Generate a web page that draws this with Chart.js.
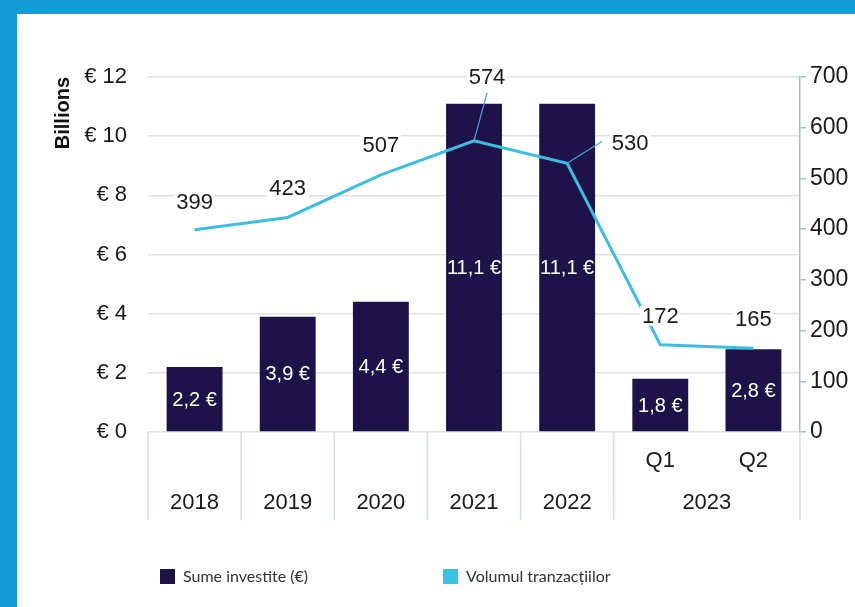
<!DOCTYPE html>
<html><head><meta charset="utf-8">
<script src="https://cdn.jsdelivr.net/npm/chart.js@4.4.1/dist/chart.umd.min.js"></script>
<style>
html,body{margin:0;padding:0;width:855px;height:607px;overflow:hidden;background:#fff;position:relative}
#topband{position:absolute;left:0;top:0;width:855px;height:14px;background:#169bd7}
#leftband{position:absolute;left:0;top:0;width:17px;height:607px;background:#169bd7}
#wrap{position:absolute;left:17px;top:14px;width:870px;height:593px}
</style></head><body>
<div id="wrap"><canvas id="c" width="870" height="593"></canvas></div>
<div id="topband"></div><div id="leftband"></div>
<script>
const categories = ['2018','2019','2020','2021','2022','2023 Q1','2023 Q2'];
const yearLabels = ['2018','2019','2020','2021','2022','2023','2023'];
const quarterLabels = ['','','','','','Q1','Q2'];
const investedBillions = [2.2,3.9,4.4,11.1,11.1,1.8,2.8];
const transactionVolume = [399,423,507,574,530,172,165];
const seriesNames = ['Sume investite (€)','Volumul tranzacțiilor'];
const axisTitle = 'Billions';

const BAR_COLOR = '#1e1349';
const LINE_COLOR = '#3dbde0';
const FONT = '"Liberation Sans", Arial, sans-serif';

// label placement offsets (px) relative to each line point
const lineLabelOffsets = [[0,-28],[0,-30],[0,-30],[13,-64],[63,-20],[0,-29],[0,-29]];
const leaderEnds = {3:[13,-48], 4:[35,-22]};

function fmtEuro(v){ return v.toFixed(1).replace('.', ',') + ' €'; }

const overlay = {
  id: 'overlay',
  afterDatasetsDraw(chart){
    const ctx = chart.ctx;
    ctx.save();
    const bm = chart.getDatasetMeta(0);
    ctx.font = '20px ' + FONT;
    ctx.fillStyle = '#ffffff';
    ctx.textAlign = 'center';
    ctx.textBaseline = 'middle';
    bm.data.forEach((b, i) => {
      ctx.fillText(fmtEuro(investedBillions[i]), b.x, (b.y + b.base) / 2 + 1);
    });
    const lm = chart.getDatasetMeta(1);
    ctx.font = '22px ' + FONT;
    lm.data.forEach((p, i) => {
      const off = lineLabelOffsets[i];
      const lx = p.x + off[0], ly = p.y + off[1];
      if (leaderEnds[i]) {
        ctx.strokeStyle = '#4aa6d2';
        ctx.lineWidth = 1.2;
        ctx.beginPath();
        ctx.moveTo(p.x, p.y);
        ctx.lineTo(p.x + leaderEnds[i][0], p.y + leaderEnds[i][1]);
        ctx.stroke();
      }
      const txt = String(transactionVolume[i]);
      const w = ctx.measureText(txt).width;
      ctx.fillStyle = '#ffffff';
      ctx.fillRect(lx - w/2 - 2, ly - 10, w + 4, 20);
      ctx.fillStyle = '#1a1a1a';
      ctx.fillText(txt, lx, ly + 1);
    });
    ctx.restore();
  },
  afterDraw(chart){
    const ctx = chart.ctx;
    const x = chart.scales.x;
    const ca = chart.chartArea;
    const n = categories.length;
    const half = (x.right - x.left) / n / 2;
    ctx.save();
    ctx.strokeStyle = '#d3dfe8';
    ctx.lineWidth = 1.5;
    const seps = [x.left];
    for (let i = 0; i < n - 1; i++) {
      if (yearLabels[i] !== yearLabels[i+1]) seps.push(x.getPixelForValue(i) + half);
    }
    seps.push(x.right);
    seps.forEach(sx => {
      ctx.beginPath();
      ctx.moveTo(sx, ca.bottom);
      ctx.lineTo(sx, ca.bottom + 88);
      ctx.stroke();
    });
    ctx.font = '22px ' + FONT;
    ctx.fillStyle = '#1a1a1a';
    ctx.textAlign = 'center';
    ctx.textBaseline = 'middle';
    quarterLabels.forEach((q, i) => {
      if (q) ctx.fillText(q, x.getPixelForValue(i), ca.bottom + 29);
    });
    let s = 0;
    for (let i = 1; i <= n; i++) {
      if (i === n || yearLabels[i] !== yearLabels[s]) {
        const cx = (x.getPixelForValue(s) + x.getPixelForValue(i - 1)) / 2;
        ctx.fillText(yearLabels[s], cx, ca.bottom + 71);
        s = i;
      }
    }
    const colors = [BAR_COLOR, '#35c3e0'];
    const boxX = [143, 426];
    ctx.font = '16px Lato, "Open Sans", sans-serif';
    ctx.textAlign = 'left';
    seriesNames.forEach((name, i) => {
      ctx.fillStyle = colors[i];
      ctx.fillRect(boxX[i], 555, 15, 15);
      ctx.fillStyle = '#333333';
      ctx.fillText(name, boxX[i] + 23, 563);
    });
    ctx.restore();
  }
};

new Chart(document.getElementById('c'), {
  type: 'bar',
  data: {
    labels: categories,
    datasets: [
      {
        type: 'bar',
        label: seriesNames[0],
        data: investedBillions,
        backgroundColor: BAR_COLOR,
        yAxisID: 'y',
        barPercentage: 0.6,
        categoryPercentage: 1,
        order: 1
      },
      {
        type: 'line',
        label: seriesNames[1],
        data: transactionVolume,
        borderColor: LINE_COLOR,
        backgroundColor: LINE_COLOR,
        borderWidth: 3,
        pointRadius: 0,
        tension: 0,
        yAxisID: 'y2',
        order: 0
      }
    ]
  },
  options: {
    responsive: false,
    animation: false,
    layout: { padding: { top: 63, left: 0, right: 0, bottom: 85 } },
    plugins: { legend: { display: false }, tooltip: { enabled: false } },
    scales: {
      x: {
        grid: { display: false },
        border: { display: false },
        ticks: { display: false },
        afterFit(s){ s.height = 90; }
      },
      y: {
        position: 'left',
        min: 0, max: 12,
        ticks: { stepSize: 2, padding: 21, color: '#1a1a1a', font: { size: 22, family: FONT },
          callback: v => '€ ' + v },
        grid: { color: '#dde2e8', lineWidth: 1.5, drawTicks: false },
        border: { display: false },
        title: { display: true, text: axisTitle, align: 'end', color: '#111',
          font: { size: 20, weight: 'bold', family: FONT }, padding: { top: 34, bottom: 0 } },
        afterFit(s){ s.width = 131; }
      },
      y2: {
        position: 'right',
        min: 0, max: 700,
        ticks: { stepSize: 100, padding: 4, color: '#1a1a1a', font: { size: 23, family: FONT } },
        grid: { drawOnChartArea: false, drawTicks: true, tickLength: 6, color: '#a9b9c8', lineWidth: 1.5 },
        border: { display: true, color: '#a9b9c8', width: 1.5 },
        afterFit(s){ s.width = 87; }
      }
    }
  },
  plugins: [overlay]
});
</script>
</body></html>
